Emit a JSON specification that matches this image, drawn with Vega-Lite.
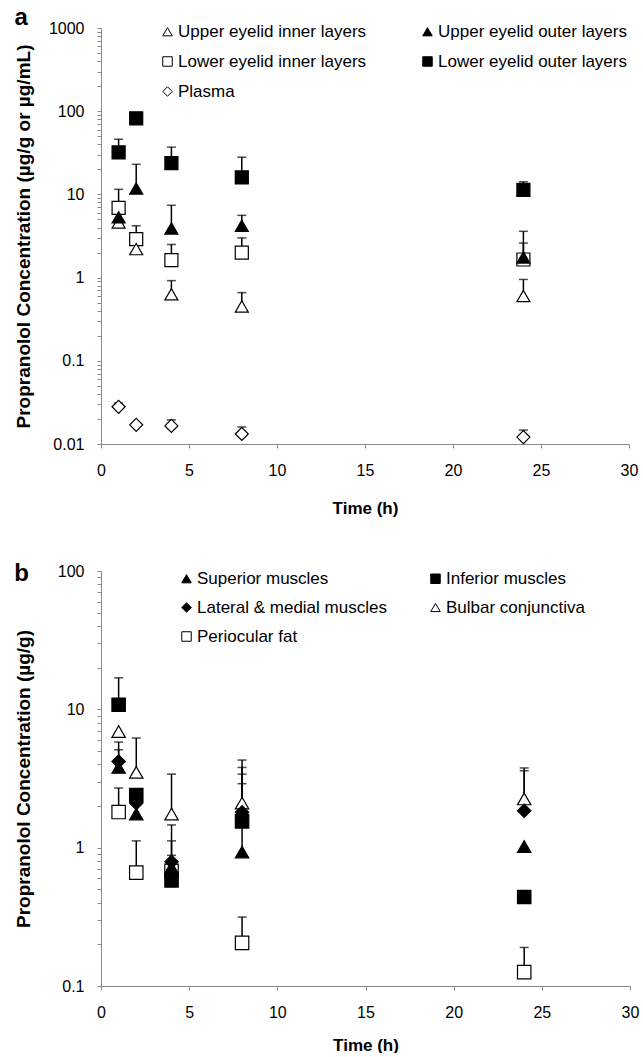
{
  "$schema": "https://vega.github.io/schema/vega-lite/v6.json",
  "padding": {"left": 14, "top": 6, "right": 5, "bottom": 0},
  "spacing": 46,
  "resolve": {
    "scale": {"shape": "independent", "fill": "independent", "stroke": "independent", "x": "independent", "y": "independent"},
    "legend": {"shape": "independent", "fill": "independent", "stroke": "independent"}
  },
  "config": {
    "font": "Liberation Sans",
    "view": {"stroke": null},
    "axis": {
      "domainColor": "#8a8a8a", "tickColor": "#8a8a8a", "tickSize": 4,
      "labelColor": "black", "labelFontSize": 16, "labelFont": "Liberation Sans",
      "titleFont": "Liberation Sans", "titleFontWeight": "bold", "titleColor": "black",
      "grid": false, "labelPadding": 13
    },
    "legend": {
      "labelFontSize": 17, "labelColor": "black", "labelFont": "Liberation Sans",
      "symbolSize": 90, "symbolStrokeWidth": 1, "labelOffset": 2
    },
    "title": {"fontSize": 24, "fontWeight": "bold", "anchor": "start", "frame": "bounds", "color": "black", "font": "Liberation Sans"}
  },
  "vconcat": [
    {
      "title": {"text": "a", "offset": -10},
      "width": 528,
      "height": 416,
      "data": {"values": [
        {"series": "Lower eyelid inner layers", "t": 1, "v": 6.9, "hi": 11.5},
        {"series": "Lower eyelid inner layers", "t": 2, "v": 2.9, "hi": 4.2},
        {"series": "Lower eyelid inner layers", "t": 4, "v": 1.62, "hi": 2.5},
        {"series": "Lower eyelid inner layers", "t": 8, "v": 2.0, "hi": 3.0},
        {"series": "Lower eyelid inner layers", "t": 24, "v": 1.65, "hi": 2.6},
        {"series": "Upper eyelid inner layers", "t": 1, "v": 4.6, "hi": null},
        {"series": "Upper eyelid inner layers", "t": 2, "v": 2.2, "hi": null},
        {"series": "Upper eyelid inner layers", "t": 4, "v": 0.63, "hi": 0.92},
        {"series": "Upper eyelid inner layers", "t": 8, "v": 0.45, "hi": 0.66},
        {"series": "Upper eyelid inner layers", "t": 24, "v": 0.6, "hi": 0.95},
        {"series": "Plasma", "t": 1, "v": 0.028, "hi": 0.031},
        {"series": "Plasma", "t": 2, "v": 0.017, "hi": 0.018},
        {"series": "Plasma", "t": 4, "v": 0.0165, "hi": 0.0195},
        {"series": "Plasma", "t": 8, "v": 0.0132, "hi": 0.016},
        {"series": "Plasma", "t": 24, "v": 0.0121, "hi": 0.0147},
        {"series": "Lower eyelid outer layers", "t": 1, "v": 32, "hi": 46},
        {"series": "Lower eyelid outer layers", "t": 2, "v": 82, "hi": null},
        {"series": "Lower eyelid outer layers", "t": 4, "v": 23.8, "hi": 37},
        {"series": "Lower eyelid outer layers", "t": 8, "v": 16, "hi": 28},
        {"series": "Lower eyelid outer layers", "t": 24, "v": 11.3, "hi": 14.2},
        {"series": "Upper eyelid outer layers", "t": 1, "v": 5.3, "hi": null},
        {"series": "Upper eyelid outer layers", "t": 2, "v": 11.8, "hi": 23},
        {"series": "Upper eyelid outer layers", "t": 4, "v": 3.9, "hi": 7.4},
        {"series": "Upper eyelid outer layers", "t": 8, "v": 4.2, "hi": 5.6},
        {"series": "Upper eyelid outer layers", "t": 24, "v": 1.75, "hi": 3.6}
      ]},
      "layer": [
        {
          "transform": [{"filter": "isValid(datum.hi)"}],
          "mark": {"type": "rule", "color": "black", "strokeWidth": 1.5},
          "encoding": {
            "x": {"field": "t", "type": "quantitative", "scale": {"domain": [0, 30]},
              "axis": {"title": "Time (h)", "titleFontSize": 17, "values": [0, 5, 10, 15, 20, 25, 30], "labelPadding": 14, "titlePadding": 22, "labelFlush": false}},
            "y": {"field": "v", "type": "quantitative",
              "scale": {"type": "log", "domain": [0.01, 1000]},
              "axis": {"title": "Propranolol Concentration (µg/g or µg/mL)", "titleFontSize": 19, "titlePadding": 15, "format": "~g", "labelOverlap": false,
                "values": [0.01,0.02,0.03,0.04,0.05,0.06,0.07,0.08,0.09,0.1,0.2,0.3,0.4,0.5,0.6,0.7,0.8,0.9,1,2,3,4,5,6,7,8,9,10,20,30,40,50,60,70,80,90,100,200,300,400,500,600,700,800,900,1000],
                "labelExpr": "indexof(['0.01','0.1','1','10','100','1000'], datum.label) >= 0 ? datum.label : ''"}},
            "y2": {"field": "hi"}
          }
        },
        {
          "transform": [{"filter": "isValid(datum.hi)"}],
          "mark": {"type": "tick", "orient": "horizontal", "size": 9, "thickness": 1.5, "color": "black"},
          "encoding": {
            "x": {"field": "t", "type": "quantitative"},
            "y": {"field": "hi", "type": "quantitative"}
          }
        },
        {
          "mark": {"type": "point", "filled": true, "strokeWidth": 1.2, "size": 170, "opacity": 1},
          "encoding": {
            "x": {"field": "t", "type": "quantitative"},
            "y": {"field": "v", "type": "quantitative"},
            "shape": {"field": "series", "type": "nominal",
              "scale": {"domain": ["Upper eyelid inner layers", "Lower eyelid inner layers", "Plasma", "Upper eyelid outer layers", "Lower eyelid outer layers"],
                "range": ["triangle-up", "square", "diamond", "triangle-up", "square"]},
              "legend": {"title": null, "orient": "none", "legendX": 58, "legendY": -5, "columns": 2, "columnPadding": 52, "rowPadding": 12, "labelLimit": 300}},
            "fill": {"field": "series", "type": "nominal",
              "scale": {"domain": ["Upper eyelid inner layers", "Lower eyelid inner layers", "Plasma", "Upper eyelid outer layers", "Lower eyelid outer layers"],
                "range": ["white", "white", "white", "black", "black"]},
              "legend": {"title": null, "orient": "none", "legendX": 58, "legendY": -5, "columns": 2, "columnPadding": 52, "rowPadding": 12, "labelLimit": 300}},
            "stroke": {"field": "series", "type": "nominal",
              "scale": {"domain": ["Upper eyelid inner layers", "Lower eyelid inner layers", "Plasma", "Upper eyelid outer layers", "Lower eyelid outer layers"],
                "range": ["black", "black", "black", "black", "black"]},
              "legend": {"title": null, "orient": "none", "legendX": 58, "legendY": -5, "columns": 2, "columnPadding": 52, "rowPadding": 12, "labelLimit": 300}}
          }
        }
      ]
    },
    {
      "title": {"text": "b", "offset": -23},
      "width": 529,
      "height": 415,
      "data": {"values": [
        {"series": "Periocular fat", "t": 1, "v": 1.81, "hi": 2.7},
        {"series": "Periocular fat", "t": 2, "v": 0.66, "hi": 1.12},
        {"series": "Periocular fat", "t": 4, "v": 0.68, "hi": null},
        {"series": "Periocular fat", "t": 8, "v": 0.205, "hi": 0.315},
        {"series": "Periocular fat", "t": 24, "v": 0.126, "hi": 0.19},
        {"series": "Bulbar conjunctiva", "t": 1, "v": 6.9, "hi": null},
        {"series": "Bulbar conjunctiva", "t": 2, "v": 3.5, "hi": 6.2},
        {"series": "Bulbar conjunctiva", "t": 4, "v": 1.75, "hi": 3.4},
        {"series": "Bulbar conjunctiva", "t": 8, "v": 2.1, "hi": 4.3},
        {"series": "Bulbar conjunctiva", "t": 24, "v": 2.25, "hi": 3.77},
        {"series": "Superior muscles", "t": 1, "v": 3.8, "hi": 5.1},
        {"series": "Superior muscles", "t": 2, "v": 1.75, "hi": null},
        {"series": "Superior muscles", "t": 4, "v": 0.72, "hi": 1.12},
        {"series": "Superior muscles", "t": 8, "v": 0.93, "hi": 2.9},
        {"series": "Superior muscles", "t": 24, "v": 1.02, "hi": null},
        {"series": "Inferior muscles", "t": 1, "v": 10.8, "hi": 16.9},
        {"series": "Inferior muscles", "t": 2, "v": 2.4, "hi": null},
        {"series": "Inferior muscles", "t": 4, "v": 0.58, "hi": 0.88},
        {"series": "Inferior muscles", "t": 8, "v": 1.55, "hi": 3.8},
        {"series": "Inferior muscles", "t": 24, "v": 0.44, "hi": null},
        {"series": "Lateral & medial muscles", "t": 1, "v": 4.2, "hi": 5.8},
        {"series": "Lateral & medial muscles", "t": 2, "v": 2.1, "hi": null},
        {"series": "Lateral & medial muscles", "t": 4, "v": 0.79, "hi": 1.46},
        {"series": "Lateral & medial muscles", "t": 8, "v": 1.8, "hi": 3.4},
        {"series": "Lateral & medial muscles", "t": 24, "v": 1.85, "hi": 3.6}
      ]},
      "layer": [
        {
          "transform": [{"filter": "isValid(datum.hi)"}],
          "mark": {"type": "rule", "color": "black", "strokeWidth": 1.5},
          "encoding": {
            "x": {"field": "t", "type": "quantitative", "scale": {"domain": [0, 30]},
              "axis": {"title": "Time (h)", "titleFontSize": 17, "values": [0, 5, 10, 15, 20, 25, 30], "labelPadding": 14, "titlePadding": 17, "labelFlush": false}},
            "y": {"field": "v", "type": "quantitative",
              "scale": {"type": "log", "domain": [0.1, 100]},
              "axis": {"title": "Propranolol Concentration (µg/g)", "titleFontSize": 19, "titlePadding": 24, "format": "~g", "labelOverlap": false,
                "values": [0.1,0.2,0.3,0.4,0.5,0.6,0.7,0.8,0.9,1,2,3,4,5,6,7,8,9,10,20,30,40,50,60,70,80,90,100],
                "labelExpr": "indexof(['0.1','1','10','100'], datum.label) >= 0 ? datum.label : ''"}},
            "y2": {"field": "hi"}
          }
        },
        {
          "transform": [{"filter": "isValid(datum.hi)"}],
          "mark": {"type": "tick", "orient": "horizontal", "size": 9, "thickness": 1.5, "color": "black"},
          "encoding": {
            "x": {"field": "t", "type": "quantitative"},
            "y": {"field": "hi", "type": "quantitative"}
          }
        },
        {
          "mark": {"type": "point", "filled": true, "strokeWidth": 1.2, "size": 180, "opacity": 1},
          "encoding": {
            "x": {"field": "t", "type": "quantitative"},
            "y": {"field": "v", "type": "quantitative"},
            "shape": {"field": "series", "type": "nominal",
              "scale": {"domain": ["Superior muscles", "Lateral & medial muscles", "Periocular fat", "Inferior muscles", "Bulbar conjunctiva"],
                "range": ["triangle-up", "diamond", "square", "square", "triangle-up"]},
              "legend": {"title": null, "orient": "none", "legendX": 77, "legendY": -1, "columns": 2, "columnPadding": 40, "rowPadding": 11, "labelLimit": 300}},
            "fill": {"field": "series", "type": "nominal",
              "scale": {"domain": ["Superior muscles", "Lateral & medial muscles", "Periocular fat", "Inferior muscles", "Bulbar conjunctiva"],
                "range": ["black", "black", "white", "black", "white"]},
              "legend": {"title": null, "orient": "none", "legendX": 77, "legendY": -1, "columns": 2, "columnPadding": 40, "rowPadding": 11, "labelLimit": 300}},
            "stroke": {"field": "series", "type": "nominal",
              "scale": {"domain": ["Superior muscles", "Lateral & medial muscles", "Periocular fat", "Inferior muscles", "Bulbar conjunctiva"],
                "range": ["black", "black", "black", "black", "black"]},
              "legend": {"title": null, "orient": "none", "legendX": 77, "legendY": -1, "columns": 2, "columnPadding": 40, "rowPadding": 11, "labelLimit": 300}}
          }
        }
      ]
    }
  ]
}
